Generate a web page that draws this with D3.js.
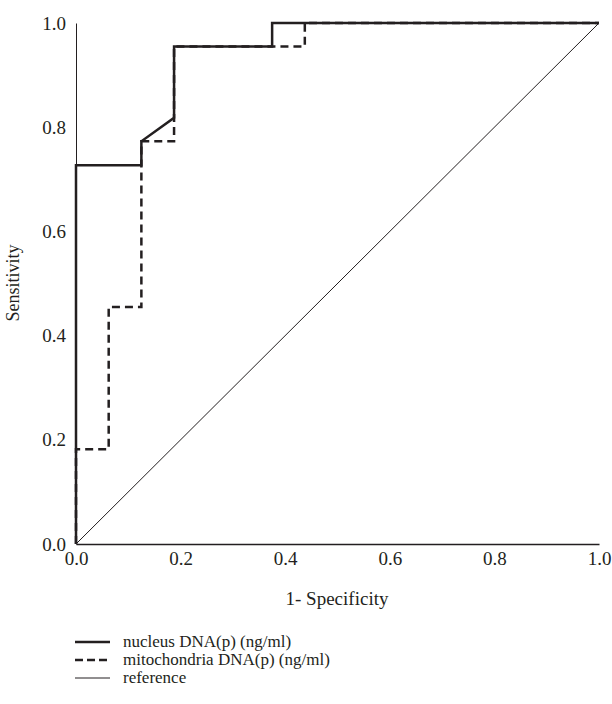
<!DOCTYPE html>
<html><head><meta charset="utf-8">
<script src="https://cdn.jsdelivr.net/npm/d3@7"></script>
<style>body{margin:0;background:#fff}svg{display:block}text{font-family:"Liberation Serif","DejaVu Serif",serif;fill:#231f20}</style>
</head><body>
<svg id="c" width="612" height="704"></svg>
<script>
const nucleusX = [0, 0, 0.125, 0.125, 0.1875, 0.1875, 0.375, 0.375, 1];
const nucleusY = [0, 0.727, 0.727, 0.773, 0.818, 0.955, 0.955, 1, 1];
const mitoX = [0, 0, 0.0625, 0.0625, 0.125, 0.125, 0.1875, 0.1875, 0.4375, 0.4375, 1];
const mitoY = [0, 0.182, 0.182, 0.455, 0.455, 0.773, 0.773, 0.955, 0.955, 1, 1];
const refX = [0, 1];
const refY = [0, 1];
const ticks = [0, 0.2, 0.4, 0.6, 0.8, 1.0];
const legendLabels = ["nucleus DNA(p) (ng/ml)", "mitochondria DNA(p) (ng/ml)", "reference"];

const svg = d3.select("#c");
const x = d3.scaleLinear().domain([0, 1]).range([76, 599]);
const y = d3.scaleLinear().domain([0, 1]).range([544, 23]);
const col = "#231f20";

// axes
const xa = svg.append("g").attr("transform", "translate(0,544)")
  .call(d3.axisBottom(x).tickValues(ticks).tickFormat(d3.format(".1f")).tickSize(0).tickPadding(8));
xa.select(".domain").attr("stroke", col).attr("stroke-width", 1.5);
xa.selectAll("text").style("font-size", "19px").attr("font-family", null);
const ya = svg.append("g").attr("transform", "translate(76,0)")
  .call(d3.axisLeft(y).tickValues(ticks).tickFormat(d3.format(".1f")).tickSize(0).tickPadding(10));
ya.select(".domain").attr("stroke", col).attr("stroke-width", 1);
ya.selectAll("text").style("font-size", "19px").attr("font-family", null);

const line = d3.line().x(d => x(d[0])).y(d => y(d[1]));
svg.append("path").datum(d3.zip(refX, refY)).attr("d", line)
  .attr("fill", "none").attr("stroke", col).attr("stroke-width", 1);
svg.append("path").datum(d3.zip(mitoX, mitoY)).attr("d", line)
  .attr("fill", "none").attr("stroke", col).attr("stroke-width", 2.5).attr("stroke-dasharray", "8,5");
svg.append("path").datum(d3.zip(nucleusX, nucleusY)).attr("d", line)
  .attr("fill", "none").attr("stroke", col).attr("stroke-width", 2.5);

svg.append("text").attr("x", 337).attr("y", 605).attr("text-anchor", "middle")
  .style("font-size", "19px").text("1- Specificity");
svg.append("text").attr("transform", "translate(19,283) rotate(-90)").attr("text-anchor", "middle")
  .style("font-size", "18px").text("Sensitivity");

// legend
const styles = [{w: 2.5, dash: null}, {w: 2.5, dash: "8,4"}, {w: 1, dash: null}];
const ly = [642, 660, 678];
legendLabels.forEach((t, i) => {
  svg.append("line").attr("x1", 75).attr("x2", 110).attr("y1", ly[i]).attr("y2", ly[i])
    .attr("stroke", col).attr("stroke-width", styles[i].w)
    .attr("stroke-dasharray", styles[i].dash);
  svg.append("text").attr("x", 123).attr("y", ly[i]).attr("dy", "0.32em")
    .style("font-size", "17px").text(t);
});
</script>
</body></html>
